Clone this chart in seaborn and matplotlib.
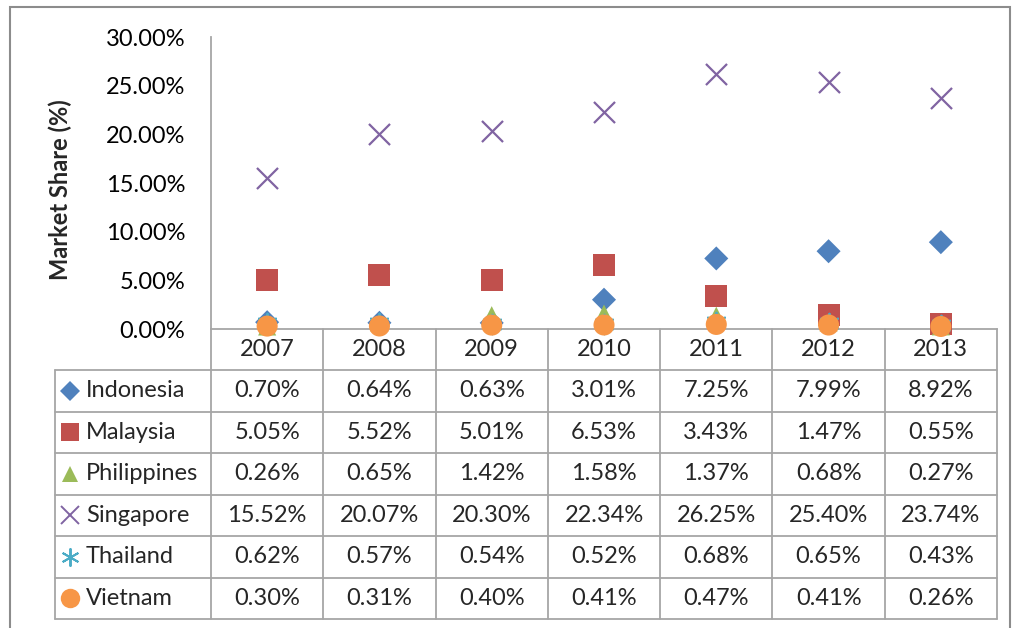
import matplotlib
matplotlib.use("Agg")
import matplotlib.pyplot as plt
import seaborn as sns
import pandas as pd
from matplotlib.ticker import PercentFormatter
from matplotlib.lines import Line2D
from matplotlib.patches import Rectangle

years = ["2007", "2008", "2009", "2010", "2011", "2012", "2013"]
countries = ["Indonesia", "Malaysia", "Philippines", "Singapore", "Thailand", "Vietnam"]
indonesia = [0.70, 0.64, 0.63, 3.01, 7.25, 7.99, 8.92]
malaysia = [5.05, 5.52, 5.01, 6.53, 3.43, 1.47, 0.55]
philippines = [0.26, 0.65, 1.42, 1.58, 1.37, 0.68, 0.27]
singapore = [15.52, 20.07, 20.30, 22.34, 26.25, 25.40, 23.74]
thailand = [0.62, 0.57, 0.54, 0.52, 0.68, 0.65, 0.43]
vietnam = [0.30, 0.31, 0.40, 0.41, 0.47, 0.41, 0.26]
series = [indonesia, malaysia, philippines, singapore, thailand, vietnam]
y_ticks = [0, 5, 10, 15, 20, 25, 30]
y_label = "Market Share (%)"

colors = ["#4F81BD", "#C0504D", "#9BBB59", "#8064A2", "#4BACC6", "#F79646"]
markers = ["D", "s", "^", "x", (6, 2, 0), "o"]
sizes = [150, 250, 170, 230, 200, 230]
lwidths = [0, 0, 0, 1.6, 1.4, 0]

FS = 17

sns.set_theme(style="white")
plt.rcParams["font.family"] = ["Lato", "DejaVu Sans"]

W, H = 1015, 628
fig = plt.figure(figsize=(W / 100, H / 100), dpi=100)

def fx(px):
    return px / W

def fy(py):
    return 1 - py / H

L, R, T, B = 211, 997, 37, 329
ax = fig.add_axes([fx(L), fy(B), fx(R) - fx(L), fy(T) - fy(B)])

for name, vals, c, m, s, lw in zip(countries, series, colors, markers, sizes, lwidths):
    df = pd.DataFrame({"x": range(len(years)), "y": vals})
    if m in ("x", (6, 2, 0)):
        sns.scatterplot(data=df, x="x", y="y", ax=ax, marker=m, color=c, s=s,
                        linewidth=lw, clip_on=False, zorder=3)
    else:
        sns.scatterplot(data=df, x="x", y="y", ax=ax, marker=m, color=c, s=s,
                        linewidth=0, edgecolor="none", clip_on=False, zorder=3)

ax.set_xlim(-0.5, len(years) - 0.5)
ax.set_ylim(0, 30)
ax.set_yticks(y_ticks)
ax.yaxis.set_major_formatter(PercentFormatter(decimals=2))
ax.tick_params(axis="y", labelsize=FS, length=0, pad=18.5, colors="black")
ax.set_xticks([])
ax.set_xlabel("")
ax.set_ylabel(y_label, fontsize=FS, fontweight="bold")
ax.yaxis.set_label_coords(-0.177, 0.479)
for side in ["top", "right"]:
    ax.spines[side].set_visible(False)
ax.spines["left"].set_color("#A6A6A6")
ax.spines["bottom"].set_color("#A6A6A6")
ax.spines["left"].set_linewidth(1.3)
ax.spines["bottom"].set_linewidth(1.3)
ax.patch.set_alpha(0)

# outer chart border
fig.patches.append(Rectangle((fx(10), fy(660)), fx(1010) - fx(10), fy(7) - fy(660),
                             transform=fig.transFigure, fill=False,
                             edgecolor="#8C8C8C", linewidth=1.5))

# data table
gc = "#A6A6A6"
col_w = (R - L) / len(years)
row_top = 370
row_h = (619 - 370) / len(countries)
tab_bottom = row_top + row_h * len(countries)
TL = 55

def hline(x0, x1, y):
    fig.add_artist(Line2D([fx(x0), fx(x1)], [fy(y), fy(y)], transform=fig.transFigure,
                          color=gc, linewidth=1.3))

def vline(x, y0, y1):
    fig.add_artist(Line2D([fx(x), fx(x)], [fy(y0), fy(y1)], transform=fig.transFigure,
                          color=gc, linewidth=1.3))

hline(TL, R, row_top)
for i in range(1, len(countries) + 1):
    hline(TL, R, row_top + i * row_h)
for k in range(len(years) + 1):
    vline(L + k * col_w, B, tab_bottom)
vline(TL, row_top, tab_bottom)

for k, yr in enumerate(years):
    fig.text(fx(L + (k + 0.5) * col_w), fy((B + row_top) / 2), yr,
             ha="center", va="center", fontsize=FS)

for i, (name, vals, c, m, s, lw) in enumerate(zip(countries, series, colors, markers, sizes, lwidths)):
    yc = row_top + (i + 0.5) * row_h
    fig.text(fx(86), fy(yc), name, ha="left", va="center", fontsize=FS)
    kw = dict(transform=fig.transFigure, clip_on=False, zorder=4)
    if m in ("x", (6, 2, 0)):
        fig.add_artist(Line2D([fx(70)], [fy(yc)], marker=m, color=c,
                              markersize=13, markeredgewidth=1.4, linestyle="none", **kw))
    else:
        ms = {"D": 10, "s": 13, "^": 12, "o": 14}[m]
        fig.add_artist(Line2D([fx(70)], [fy(yc)], marker=m, color=c,
                              markersize=ms, markeredgewidth=0, linestyle="none", **kw))
    for k, v in enumerate(vals):
        fig.text(fx(L + (k + 0.5) * col_w), fy(yc), f"{v:.2f}%",
                 ha="center", va="center", fontsize=FS)

fig.savefig("out.png", dpi=100)
